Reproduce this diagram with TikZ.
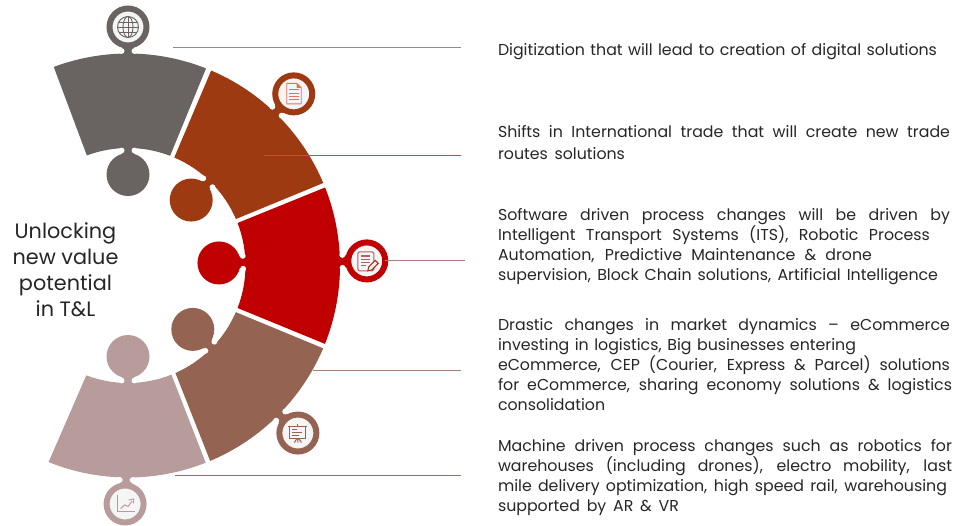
\documentclass[tikz,border=0pt]{standalone}
\usepackage{fontspec}
\setmainfont{Poppins}
\usetikzlibrary{calc}
\definecolor{cgray}{HTML}{696462}
\definecolor{cbrown}{HTML}{9E3A12}
\definecolor{cred}{HTML}{C00000}
\definecolor{cmid}{HTML}{946352}
\definecolor{cpale}{HTML}{B89B9B}
\definecolor{cin}{HTML}{F5F5F5}
\definecolor{ctext}{HTML}{262626}
\definecolor{ldoc}{HTML}{E87050}
\definecolor{lone}{HTML}{8C8C8C}
\definecolor{ltwo}{HTML}{C8502E}
\definecolor{lthree}{HTML}{B07878}
\definecolor{lfour}{HTML}{A87F72}
\definecolor{lfive}{HTML}{8F7373}
\newcommand\seg[5]{\fill[#1] (#2:212pt) arc[start angle=#2,end angle=#3,radius=212pt] -- (#5:117.5pt) arc[start angle=#5,end angle=#4,radius=117.5pt] -- cycle;}
\newcommand\tabneck[3]{\begin{scope}[rotate=#2]
  \fill[#1] (#3-5pt,-6pt) rectangle (#3+5pt,6pt);
  \fill[white] (#3,-6.4pt) circle[radius=2.9pt] (#3,6.4pt) circle[radius=2.9pt];
\end{scope}}
\newcommand\jf[2]{\hbox to #1pt{\spaceskip=.28em plus 5em minus .2em\relax #2}}
\newcommand\paralines[2]{\vtop{\baselineskip=#1pt\lineskiplimit=-20pt\hsize=460pt #2}}
\tikzset{
  knob/.style={circle,fill=#1,minimum size=43pt,inner sep=0pt,outer sep=0pt},
  ring/.style={circle,draw=#1,fill=cin,line width=6pt,minimum size=37pt,inner sep=0pt,outer sep=0pt},
  leader/.style={line width=.9pt,draw=#1},
  para/.style={anchor=base west,inner sep=0pt,outer sep=0pt,text=ctext,font=\fontsize{15.8}{20.3}\selectfont},
  title/.style={align=center,inner sep=0pt,text=ctext,font=\fontsize{20.8}{26}\selectfont},
}
\begin{document}
\begin{tikzpicture}[x=1pt,y=1pt]
\useasboundingbox (0,-525) rectangle (953,0);
\begin{scope}[shift={(128,-265.5)}]
  \seg{cgray}{110.5}{68.4}{110.5}{69}
  \seg{cbrown}{66.9}{22.9}{66.8}{23.3}
  \seg{cred}{21.6}{-21.7}{21.2}{-21.2}
  \seg{cmid}{-23}{-67.2}{-23.4}{-66.2}
  \seg{cpale}{-68.5}{-112}{-68.3}{-110.8}
  \tabneck{cgray}{90}{214.5pt}\tabneck{cgray}{90}{115pt}
  \tabneck{cbrown}{46}{214.5pt}\tabneck{cbrown}{46}{115pt}
  \tabneck{cred}{1.1}{214.5pt}\tabneck{cred}{1.6}{115pt}
  \tabneck{cmid}{-44.6}{214.5pt}\tabneck{cmid}{-44.6}{115pt}
  \tabneck{cpale}{-90.5}{214.5pt}\tabneck{cpale}{-90}{115pt}
  \node[knob=cgray] (k1) at (90:91pt) {};
  \node[knob=cbrown] (k2) at (46:91pt) {};
  \node[knob=cred] (k3) at (1.6:91pt) {};
  \node[knob=cmid] (k4) at (-44.6:91pt) {};
  \node[knob=cpale] (k5) at (-90:91pt) {};
  \node[ring=cgray] (r1) at (90:238.5pt) {};
  \node[ring=cbrown] (r2) at (46:238.6pt) {};
  \node[ring=cred] (r3) at (1.1:238.8pt) {};
  \node[ring=cmid] (r4) at (-44.6:238.6pt) {};
  \node[ring=cpale] (r5) at (-90.7:238.5pt) {};
\end{scope}
% leaders
\coordinate (a1) at (173,-47); \coordinate (b1) at (461,-47);
\coordinate (a2) at (264,-155); \coordinate (b2) at (461,-155);
\coordinate (b3) at (465,-261);
\coordinate (a4) at (313,-370); \coordinate (b4) at (461,-370);
\coordinate (a5) at (175,-475); \coordinate (b5) at (461,-475);
\draw[leader=lone] (a1) -- (b1);
\draw[leader=ltwo] (a2) -- (b2);
\draw[leader=lthree] (r3.east) -- (r3.east -| b3);
\draw[leader=lfour] (a4) -- (b4);
\draw[leader=lfive] (a5) -- (b5);
% globe
\begin{scope}[shift={(r1.center)},line width=.9pt]
  \draw[cgray] (0,0) circle[radius=10.5pt];
  \draw[cgray] (0,0) ellipse[x radius=5pt,y radius=10.5pt];
  \draw[cgray] (0,-10.5) -- (0,10.5) (-10.5,0) -- (10.5,0) (-9.2,5) -- (9.2,5) (-9.2,-5) -- (9.2,-5);
\end{scope}
% document
\begin{scope}[shift={(r2.center)},line width=.9pt]
  \draw[ldoc] (-7,-10) -- (7.5,-10) -- (7.5,6) -- (3,10.5) -- (-7,10.5) -- cycle;
  \fill[ldoc] (3,10.5) -- (7.5,6) -- (3,6) -- cycle;
  \draw[ldoc] (-4.5,4) -- (5,4) (-4.5,.8) -- (5,.8) (-4.5,-2.4) -- (5,-2.4) (-4.5,-5.6) -- (5,-5.6);
\end{scope}
% document + pencil
\begin{scope}[shift={(r3.center)},line width=1pt]
  \draw[lthree!80!cred,rounded corners=1.5pt] (-9,-10) rectangle (7,9);
  \draw[lthree!80!cred,line width=1.2pt] (-5.5,5) -- (3.5,5) (-5.5,1.8) -- (3.5,1.8);
  \draw[lthree!80!cred,line width=1.2pt] (-5.5,-1.4) -- (3.5,-1.4) (-5.5,-4.6) -- (-.5,-4.6);
  \fill[cin] (0,-10.5) -- (3,-11) -- (12,-2) -- (9,2) -- cycle;
  \draw[cbrown!80!cred,line width=1pt] (1,-10) -- (2,-6) -- (8.5,.5) -- (11.5,-2.5) -- (5,-9) -- cycle;
\end{scope}
% presentation board
\begin{scope}[shift={(r4.center)},line width=1pt]
  \draw[cmid] (-9.5,7) -- (9.5,7) (0,7) -- (0,9);
  \draw[cmid] (-8,7) rectangle (8,-5.5);
  \draw[cmid] (-5.5,3.5) -- (-1,3.5) (-5.5,.8) -- (4.5,.8) (-5.5,-2) -- (1.5,-2);
  \draw[cmid] (0,-5.5) -- (0,-9.5) (-1,-5.5) -- (-3.5,-9.5) (1,-5.5) -- (3.5,-9.5);
\end{scope}
% chart
\begin{scope}[shift={(r5.center)},line width=1pt]
  \draw[cpale] (-7.5,8.5) -- (-7.5,-8) -- (9.5,-8);
  \draw[cpale] (-4.5,-4.5) -- (-.5,-1) -- (3,-2.5) -- (7,3);
  \draw[cpale,line width=.9pt] (3.5,4) -- (8.5,5) -- (8.5,.5);
\end{scope}
% text
\node[title] (t0) at (65.5,-270) {Unlocking\\new value\\potential\\in T\&L};
\node[para] (t1) at (498,-55) {\paralines{20.3}{\jf{439}{Digitization that will lead to creation of digital solutions}}};
\node[para] (t2) at (498,-137) {\paralines{22}{\jf{452}{Shifts in International trade that will create new trade}\jf{127}{routes solutions}}};
\node[para] (t3) at (498,-220) {\paralines{20.2}{\jf{452}{Software driven process changes will be driven by}\jf{432}{Intelligent Transport Systems (ITS), Robotic Process}\jf{374}{Automation, Predictive Maintenance \& drone}\jf{440}{supervision, Block Chain solutions, Artificial Intelligence}}};
\node[para] (t4) at (498,-330) {\paralines{20.2}{\jf{452}{Drastic changes in market dynamics – eCommerce}\jf{358}{investing in logistics, Big businesses entering}\jf{452}{eCommerce, CEP (Courier, Express \& Parcel) solutions}\jf{454}{for eCommerce, sharing economy solutions \& logistics}\jf{110}{consolidation}}};
\node[para] (t5) at (498,-451) {\paralines{20.3}{\jf{454}{Machine driven process changes such as robotics for}\jf{454}{warehouses (including drones), electro mobility, last}\jf{449}{mile delivery optimization, high speed rail, warehousing}\jf{181}{supported by AR \& VR}}};
\end{tikzpicture}
\end{document}
